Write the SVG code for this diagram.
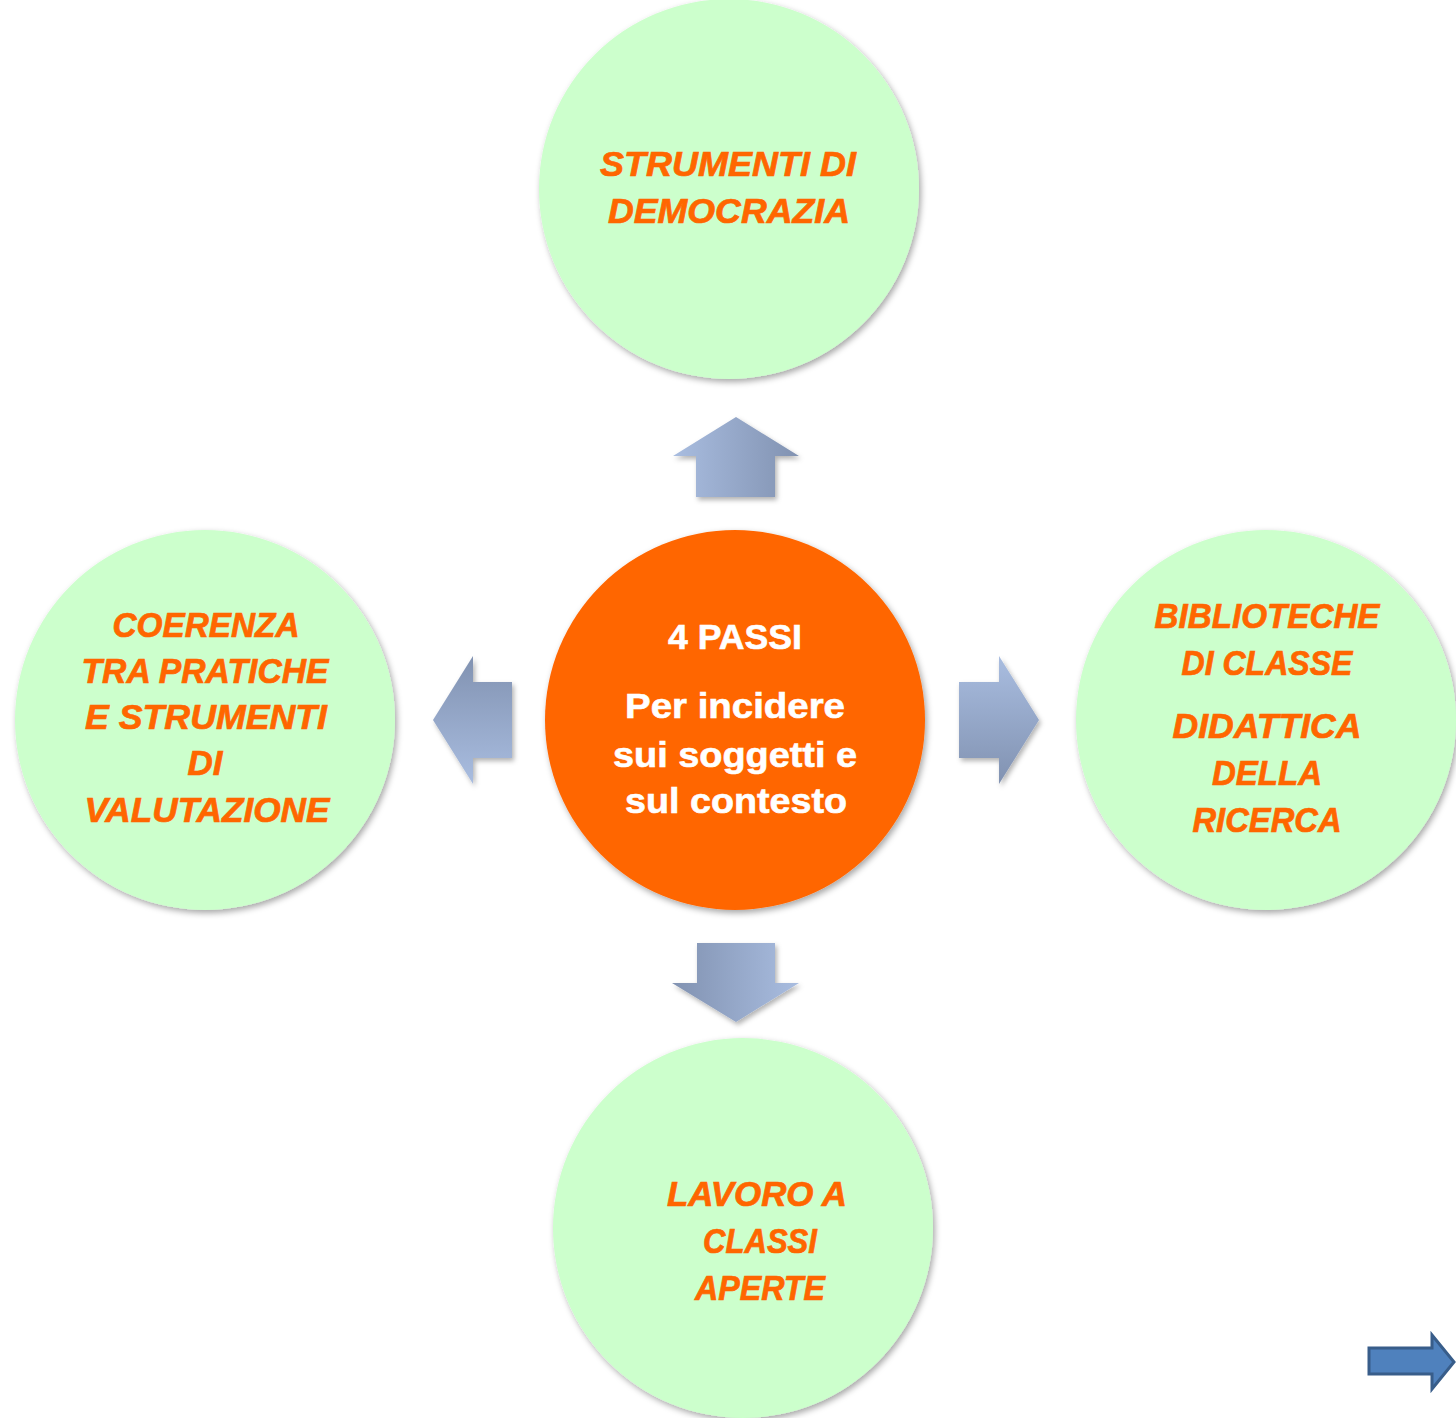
<svg xmlns="http://www.w3.org/2000/svg" width="1456" height="1418" viewBox="0 0 1456 1418">
  <style>
    .node { fill: #ccffcc; filter: url(#shadow); }
    .center { fill: #ff6600; filter: url(#shadow); }
    .lbl { font-family: "Liberation Sans", Arial, sans-serif; font-weight: bold; font-style: italic; font-size: 35px; fill: #ff6600; stroke: #ff6600; stroke-width: 0.7; text-anchor: middle; }
    .clbl { font-family: "Liberation Sans", Arial, sans-serif; font-weight: bold; font-size: 35px; fill: #ffffff; stroke: #ffffff; stroke-width: 0.6; text-anchor: middle; }
    .arr { filter: url(#ashadow); }
  </style>
  <defs>
    <filter id="shadow" x="-10%" y="-10%" width="125%" height="125%">
      <feDropShadow dx="2" dy="3" stdDeviation="3" flood-color="#000" flood-opacity="0.35"/>
    </filter>
    <filter id="ashadow" x="-20%" y="-20%" width="150%" height="150%">
      <feDropShadow dx="2" dy="3" stdDeviation="2.5" flood-color="#000" flood-opacity="0.3"/>
    </filter>
    <linearGradient id="gLR" x1="0" y1="0" x2="1" y2="0">
      <stop offset="0" stop-color="#a9bde0"/>
      <stop offset="1" stop-color="#8192b1"/>
    </linearGradient>
    <linearGradient id="gRL" x1="0" y1="0" x2="1" y2="0">
      <stop offset="0" stop-color="#8192b1"/>
      <stop offset="1" stop-color="#a9bde0"/>
    </linearGradient>
    <linearGradient id="gTB" x1="0" y1="0" x2="0" y2="1">
      <stop offset="0" stop-color="#a9bde0"/>
      <stop offset="1" stop-color="#8192b1"/>
    </linearGradient>
    <linearGradient id="gBT" x1="0" y1="0" x2="0" y2="1">
      <stop offset="0" stop-color="#8192b1"/>
      <stop offset="1" stop-color="#a9bde0"/>
    </linearGradient>
  </defs>

  <g id="connectors">
    <polygon class="arr" fill="url(#gLR)" points="736,417 799,456 775,456 775,497 696,497 696,456 673,456"/>
    <polygon class="arr" fill="url(#gBT)" points="433,720 473,656 473,682 512,682 512,758 473,758 473,784"/>
    <polygon class="arr" fill="url(#gTB)" points="1039,720 999,656 999,682 959,682 959,758 999,758 999,784"/>
    <polygon class="arr" fill="url(#gRL)" points="697,943 775,943 775,983 799,983 736,1022 672,983 697,983"/>
    <polygon fill="#4f81bd" stroke="#385d8a" stroke-width="3" stroke-linejoin="miter" points="1369,1348 1432,1348 1432,1335 1454,1362 1432,1389 1432,1374 1369,1374"/>
  </g>

  <g id="node-top">
    <circle class="node" cx="729" cy="189" r="190"/>
    <text class="lbl" x="728" y="176" textLength="256" lengthAdjust="spacingAndGlyphs">STRUMENTI DI</text>
    <text class="lbl" x="729" y="223" textLength="242" lengthAdjust="spacingAndGlyphs">DEMOCRAZIA</text>
  </g>

  <g id="node-left">
    <circle class="node" cx="205" cy="720" r="190"/>
    <text class="lbl" x="206" y="637" textLength="187" lengthAdjust="spacingAndGlyphs">COERENZA</text>
    <text class="lbl" x="205" y="683" textLength="247" lengthAdjust="spacingAndGlyphs">TRA PRATICHE</text>
    <text class="lbl" x="206" y="729" textLength="242" lengthAdjust="spacingAndGlyphs">E STRUMENTI</text>
    <text class="lbl" x="205" y="775" textLength="35" lengthAdjust="spacingAndGlyphs">DI</text>
    <text class="lbl" x="207" y="822" textLength="245" lengthAdjust="spacingAndGlyphs">VALUTAZIONE</text>
  </g>

  <g id="node-center">
    <circle class="center" cx="735" cy="720" r="190"/>
    <text class="clbl" x="735" y="649" textLength="134" lengthAdjust="spacingAndGlyphs">4 PASSI</text>
    <text class="clbl" x="735" y="718" textLength="220" lengthAdjust="spacingAndGlyphs">Per incidere</text>
    <text class="clbl" x="735" y="767" textLength="244" lengthAdjust="spacingAndGlyphs">sui soggetti e</text>
    <text class="clbl" x="736" y="813" textLength="222" lengthAdjust="spacingAndGlyphs">sul contesto</text>
  </g>

  <g id="node-right">
    <circle class="node" cx="1266" cy="720" r="190"/>
    <text class="lbl" x="1267" y="628" textLength="225" lengthAdjust="spacingAndGlyphs">BIBLIOTECHE</text>
    <text class="lbl" x="1267" y="675" textLength="171" lengthAdjust="spacingAndGlyphs">DI CLASSE</text>
    <text class="lbl" x="1267" y="738" textLength="189" lengthAdjust="spacingAndGlyphs">DIDATTICA</text>
    <text class="lbl" x="1267" y="785" textLength="110" lengthAdjust="spacingAndGlyphs">DELLA</text>
    <text class="lbl" x="1267" y="832" textLength="149" lengthAdjust="spacingAndGlyphs">RICERCA</text>
  </g>

  <g id="node-bottom">
    <circle class="node" cx="743" cy="1228" r="190"/>
    <text class="lbl" x="757" y="1206" textLength="180" lengthAdjust="spacingAndGlyphs">LAVORO A</text>
    <text class="lbl" x="760" y="1253" textLength="114" lengthAdjust="spacingAndGlyphs">CLASSI</text>
    <text class="lbl" x="760" y="1300" textLength="130" lengthAdjust="spacingAndGlyphs">APERTE</text>
  </g>
</svg>
